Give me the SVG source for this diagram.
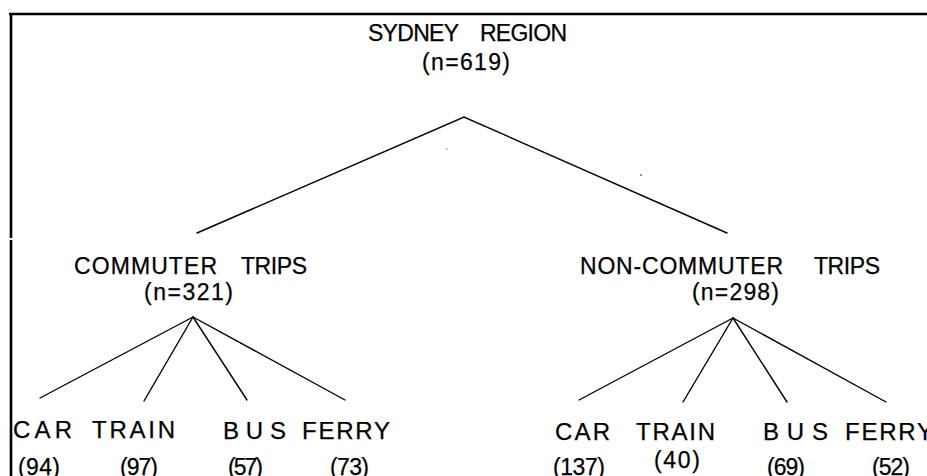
<svg xmlns="http://www.w3.org/2000/svg" width="927" height="476" viewBox="0 0 927 476">
<style>
.t{font-family:"Liberation Sans",Arial,sans-serif;font-size:23px;fill:#000;stroke:#000;stroke-width:0.25}
.m{font-size:24px}
.c{stroke:#000;stroke-width:1.4;fill:none;stroke-linecap:round}
.f{stroke:#000;stroke-width:2.6;fill:none}
</style>
<rect width="927" height="476" fill="#fff"/>
<g id="frame">
<line class="f" x1="9" y1="14" x2="927" y2="14"/>
<line class="f" x1="11" y1="13" x2="11" y2="238"/>
<line class="f" x1="11" y1="240" x2="11" y2="476"/>
</g>
<g id="connectors">
<polyline class="c" points="197,233 464,117 727,233"/>
<line class="c" x1="193" y1="317" x2="40" y2="398"/>
<line class="c" x1="193" y1="317" x2="144" y2="401"/>
<line class="c" x1="193" y1="317" x2="247" y2="400"/>
<line class="c" x1="193" y1="317" x2="345" y2="400"/>
<line class="c" x1="733" y1="318" x2="579" y2="400"/>
<line class="c" x1="733" y1="318" x2="683" y2="402"/>
<line class="c" x1="733" y1="318" x2="787" y2="402"/>
<line class="c" x1="733" y1="318" x2="886" y2="402"/>
<circle cx="447" cy="149" r="0.6" fill="#000"/>
<circle cx="641" cy="175" r="0.8" fill="#000"/>
</g>
<g id="root">
<text class="t" x="368" y="41" textLength="91">SYDNEY</text>
<text class="t" x="480" y="41" textLength="87">REGION</text>
<text class="t" x="422" y="70" textLength="88">(n=619)</text>
</g>
<g id="commuter">
<text class="t" x="74" y="274" textLength="143">COMMUTER</text>
<text class="t" x="241" y="274" textLength="66">TRIPS</text>
<text class="t" x="144" y="300" textLength="89">(n=321)</text>
</g>
<g id="noncommuter">
<text class="t" x="580" y="274" textLength="203">NON-COMMUTER</text>
<text class="t" x="814" y="274" textLength="66">TRIPS</text>
<text class="t" x="692" y="300" textLength="87">(n=298)</text>
</g>
<g id="c-car"><text class="t m" x="13" y="438" textLength="59">CAR</text><text class="t" x="18" y="475" textLength="42">(94)</text></g>
<g id="c-train"><text class="t m" x="92" y="438" textLength="83">TRAIN</text><text class="t" x="120" y="475" textLength="38">(97)</text></g>
<g id="c-bus"><text class="t m" x="223" y="439" textLength="63">BUS</text><text class="t" x="228" y="475" textLength="35">(57)</text></g>
<g id="c-ferry"><text class="t m" x="302" y="439" textLength="88">FERRY</text><text class="t" x="330" y="475" textLength="39">(73)</text></g>
<g id="n-car"><text class="t m" x="555" y="440" textLength="55">CAR</text><text class="t" x="553" y="475" textLength="52">(137)</text></g>
<g id="n-train"><text class="t m" x="636" y="440" textLength="79">TRAIN</text><text class="t" x="654" y="468" textLength="46">(40)</text></g>
<g id="n-bus"><text class="t m" x="763" y="440" textLength="65">B U S</text><text class="t" x="767" y="475" textLength="38">(69)</text></g>
<g id="n-ferry"><text class="t m" x="845" y="440" textLength="88">FERRY</text><text class="t" x="872" y="475" textLength="38">(52)</text></g>
</svg>
